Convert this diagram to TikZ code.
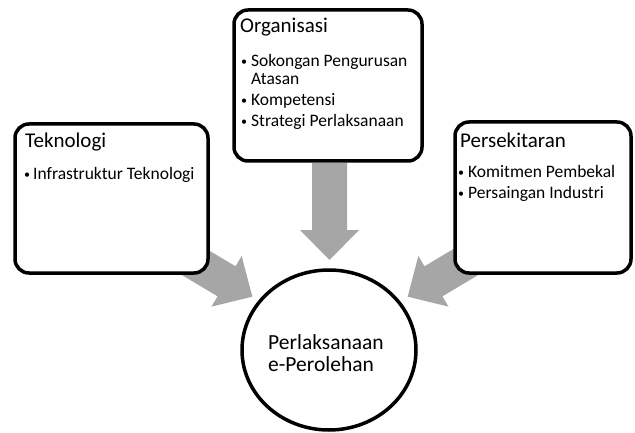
\documentclass[tikz,border=0pt]{standalone}
\usepackage{fontspec}
\setmainfont{Carlito}
\usetikzlibrary{shapes.geometric}
\definecolor{arrowgray}{RGB}{166,166,166}
\tikzset{
  box/.style={draw=black, line width=3.5pt, rounded corners=14pt, fill=white, inner sep=0pt},
  goalnode/.style={draw=black, line width=3.5pt, ellipse, fill=white, inner sep=0pt},
  title/.style={anchor=base west, inner sep=0pt, font=\fontsize{21}{25}\selectfont},
  goaltext/.style={anchor=base west, inner sep=0pt, font=\fontsize{21.5}{25}\selectfont},
  item/.style={anchor=base west, inner sep=0pt, font=\fontsize{17.5}{20}\selectfont},
  bul/.style={anchor=base west, inner sep=0pt, font=\fontsize{12}{14}\selectfont},
  pics/blockarrow/.style={code={
    \fill[arrowgray] (0,-17.5) -- (67,-17.5) -- (67,-29.5) -- (97,0) -- (67,29.5) -- (67,17.5) -- (0,17.5) -- cycle;
  }}
}
\begin{document}
\begin{tikzpicture}[x=1pt,y=-1pt]
\useasboundingbox (0,0) rectangle (635,433);
% arrows (behind boxes)
\pic[rotate=-30.8] (arrL) at (169,247) {blockarrow};
\pic[rotate=-149.2] (arrR) at (491,247) {blockarrow};
\pic[rotate=-90] (arrD) at (329.5,163) {blockarrow};
% boxes
\node[box, minimum width=193pt, minimum height=149pt] (tek) at (111.5,198.5) {};
\node[box, minimum width=188pt, minimum height=151pt] (org) at (328,85.5) {};
\node[box, minimum width=176pt, minimum height=151pt] (per) at (543,197.5) {};
\node[goalnode, minimum width=174pt, minimum height=160pt] (goal) at (329,350) {};
% texts
\node[title] (tekT) at (25,148) {Teknologi};
\node[bul] (tekB1) at (24,178.5) {•};
\node[item] (tekI1) at (33,180) {Infrastruktur Teknologi};

\node[title] (orgT) at (240,33) {Organisasi};
\node[bul] (orgB1) at (241,65.5) {•};
\node[item] (orgI1) at (251,67) {Sokongan Pengurusan};
\node[item] (orgI1b) at (251,85) {Atasan};
\node[bul] (orgB2) at (241,104.5) {•};
\node[item] (orgI2) at (251,106) {Kompetensi};
\node[bul] (orgB3) at (241,125.5) {•};
\node[item] (orgI3) at (251,127) {Strategi Perlaksanaan};

\node[title] (perT) at (460,148) {Persekitaran};
\node[bul] (perB1) at (458,176.5) {•};
\node[item] (perI1) at (468,178) {Komitmen Pembekal};
\node[bul] (perB2) at (458,197.5) {•};
\node[item] (perI2) at (468,199) {Persaingan Industri};

\node[goaltext] (goalT1) at (268,349) {Perlaksanaan};
\node[goaltext] (goalT2) at (268,371) {e-Perolehan};
\end{tikzpicture}
\end{document}
